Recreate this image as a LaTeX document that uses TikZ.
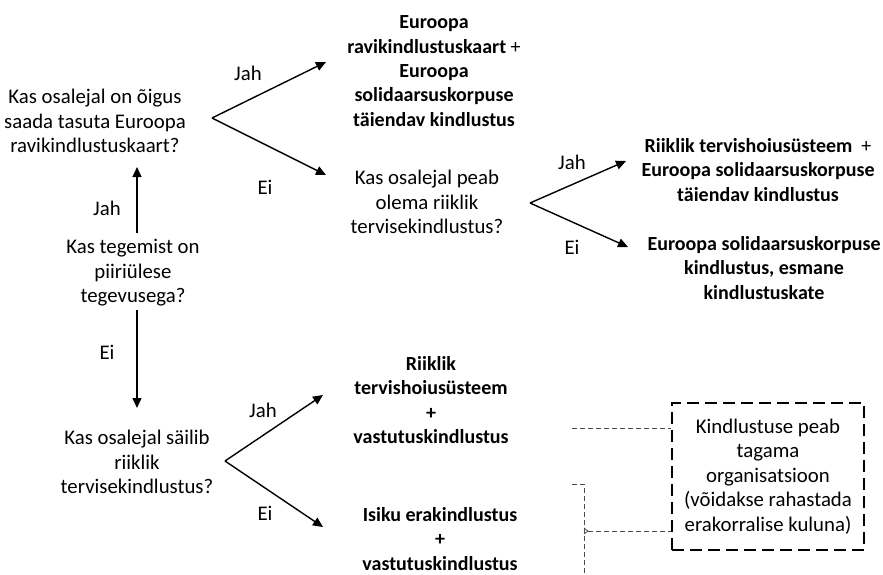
\documentclass[tikz,border=0pt]{standalone}
\usepackage{fontspec}
\setmainfont{Carlito}
\usetikzlibrary{arrows.meta}
\begin{document}
\begin{tikzpicture}[x=1pt,y=-1pt,
  txt/.style={align=center, inner sep=0pt, font=\fontsize{20.8}{24.5}\selectfont},
  res/.style={txt, font=\fontsize{20}{24.3}\selectfont\bfseries},
  lbl/.style={inner sep=0pt, font=\fontsize{20.8}{24.5}\selectfont},
  arr/.style={line width=1.4pt, -{Triangle[length=10pt,width=9pt]}},
  dline/.style={draw=black!70, line width=0.8pt, dash pattern=on 5pt off 3pt},
  notebox/.style={txt, draw, line width=1.6pt, dash pattern=on 12pt off 6pt, minimum width=192pt, minimum height=147pt}
]
\useasboundingbox (0,0) rectangle (883,574);

% question nodes
\node[txt] (A) at (95,121) {Kas osalejal on õigus\\saada tasuta Euroopa\\ravikindlustuskaart?};
\node[txt] (B) at (133,273) {Kas tegemist on\\piiriülese\\tegevusega?};
\node[txt] (C) at (137,462) {Kas osalejal säilib\\riiklik\\tervisekindlustus?};
\node[txt] (E) at (427,202) {Kas osalejal peab\\olema riiklik\\tervisekindlustus?};

% result nodes
\node[res] (D) at (434,71) {Euroopa\\ravikindlustuskaart \textmd{+}\\Euroopa\\solidaarsuskorpuse\\täiendav kindlustus};
\node[res] (F) at (758,170) {Riiklik tervishoiusüsteem \ \textmd{+}\\Euroopa solidaarsuskorpuse\\täiendav kindlustus};
\node[res] (G) at (764,268) {Euroopa solidaarsuskorpuse\\kindlustus, esmane\\kindlustuskate};
\node[res] (H) at (431,400) {Riiklik\\tervishoiusüsteem\\+\\vastutuskindlustus};
\node[res] (I) at (440,539) {Isiku erakindlustus\\+\\vastutuskindlustus};

% note box
\node[notebox] (N) at (768,476.5) {Kindlustuse peab\\tagama\\organisatsioon\\(võidakse rahastada\\erakorralise kuluna)};

% fork points and arrow tips
\coordinate (fA) at (212,118);
\coordinate (tD) at (326,62);
\coordinate (tE) at (326,175);
\coordinate (fE) at (530,203);
\coordinate (tF) at (626,161);
\coordinate (tG) at (628,247);
\coordinate (fC) at (225,461);
\coordinate (tH) at (323,395);
\coordinate (tI) at (323,527);
\coordinate (bA) at (137,233);
\coordinate (aA) at (137,167);
\coordinate (bC) at (137,310);
\coordinate (aC) at (137,408);

\draw[arr] (fA) -- (tD);
\draw[arr] (fA) -- (tE);
\draw[arr] (fE) -- (tF);
\draw[arr] (fE) -- (tG);
\draw[arr] (fC) -- (tH);
\draw[arr] (fC) -- (tI);
\draw[arr] (bA) -- (aA);
\draw[arr] (bC) -- (aC);

% labels
\node[lbl] (l1) at (248,73) {Jah};
\node[lbl] (l2) at (265,187) {Ei};
\node[lbl] (l3) at (107,208) {Jah};
\node[lbl] (l4) at (107,352) {Ei};
\node[lbl] (l5) at (572,162) {Jah};
\node[lbl] (l6) at (572,247) {Ei};
\node[lbl] (l7) at (263,410) {Jah};
\node[lbl] (l8) at (265,513) {Ei};

% dashed connectors to note box
\coordinate (hH) at (572,428);
\draw[dline] (hH) -- (hH -| N.west);
\coordinate (bt) at (572,484);
\coordinate (bb) at (584,574);
\coordinate (bm) at (584,531);
\draw[dline] (bt) -- (584,484) -- (bb);
\draw[draw=black!70, line width=0.8pt] (584,528) -- (588,531) -- (584,534);
\draw[dline] (588,531) -- (bm -| N.west);
\end{tikzpicture}
\end{document}
